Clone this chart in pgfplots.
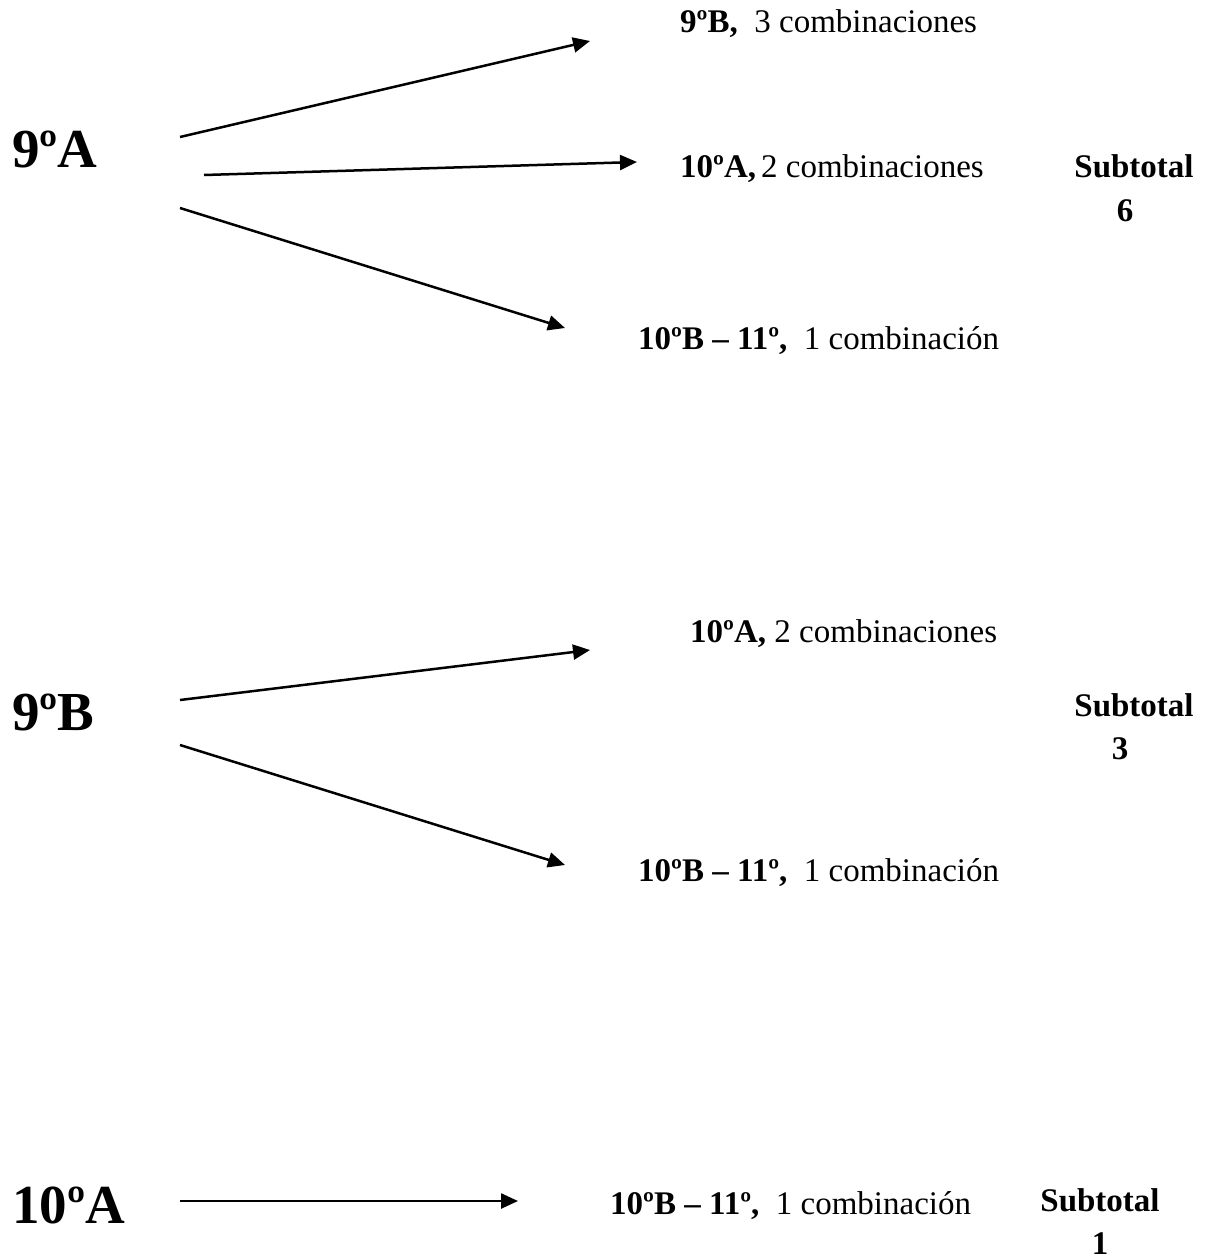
\documentclass[border=0pt]{standalone}
\usepackage{fontspec}
\setmainfont{Liberation Serif}
\usepackage{pgfplots}
\pgfplotsset{compat=1.18}
\usetikzlibrary{arrows.meta}

\newcommand{\grp}{\fontsize{55}{60}\selectfont\bfseries}
\newcommand{\sm}{\fontsize{33}{38}\selectfont}

\begin{document}
\begin{tikzpicture}
  \begin{axis}[
    scale only axis,
    width=1212pt, height=1259pt,
    xmin=0, xmax=1212, ymin=0, ymax=1259,
    y dir=reverse,
    hide axis,
    clip=false,
    arr/.style={black, solid, no marks, line width=2.5pt, -{Triangle[length=17pt,width=15pt]}},
  ]
  \path (axis cs:0,0) rectangle (axis cs:1212,1259);

  % arrows (pixel coords, y down)
  \addplot[arr] coordinates {(180,137) (590,41)};
  \addplot[arr] coordinates {(204,175) (637,162)};
  \addplot[arr] coordinates {(180,208) (565,328)};

  \addplot[arr] coordinates {(180,700) (590,650)};
  \addplot[arr] coordinates {(180,745) (565,865)};

  \addplot[arr] coordinates {(180,1201) (518,1201)};

  % group labels
  \node[anchor=base west, font=\grp, inner sep=0] at (axis cs:12,167) {9ºA};
  \node[anchor=base west, font=\grp, inner sep=0] at (axis cs:12,730) {9ºB};
  \node[anchor=base west, font=\grp, inner sep=0] at (axis cs:12,1223) {10ºA};

  % targets
  \node[anchor=base west, font=\sm, inner sep=0] at (axis cs:680,32) {\textbf{9ºB,}\ \ 3 combinaciones};
  \node[anchor=base west, font=\sm, inner sep=0] at (axis cs:680,177) {\textbf{10ºA,}\hspace{0.15em}2 combinaciones};
  \node[anchor=base west, font=\sm, inner sep=0] at (axis cs:638,349) {\textbf{10ºB – 11º,}\ \ 1 combinación};

  \node[anchor=base west, font=\sm, inner sep=0] at (axis cs:690,642) {\textbf{10ºA,}\ 2 combinaciones};
  \node[anchor=base west, font=\sm, inner sep=0] at (axis cs:638,881) {\textbf{10ºB – 11º,}\ \ 1 combinación};

  \node[anchor=base west, font=\sm, inner sep=0] at (axis cs:610,1214) {\textbf{10ºB – 11º,}\ \ 1 combinación};

  % subtotals
  \node[anchor=base, font=\sm\bfseries, inner sep=0] at (axis cs:1134,177) {Subtotal};
  \node[anchor=base, font=\sm\bfseries, inner sep=0] at (axis cs:1125,221) {6};
  \node[anchor=base, font=\sm\bfseries, inner sep=0] at (axis cs:1134,716) {Subtotal};
  \node[anchor=base, font=\sm\bfseries, inner sep=0] at (axis cs:1120,759) {3};
  \node[anchor=base, font=\sm\bfseries, inner sep=0] at (axis cs:1100,1211) {Subtotal};
  \node[anchor=base, font=\sm\bfseries, inner sep=0] at (axis cs:1100,1254) {1};
  \end{axis}
\end{tikzpicture}
\end{document}
